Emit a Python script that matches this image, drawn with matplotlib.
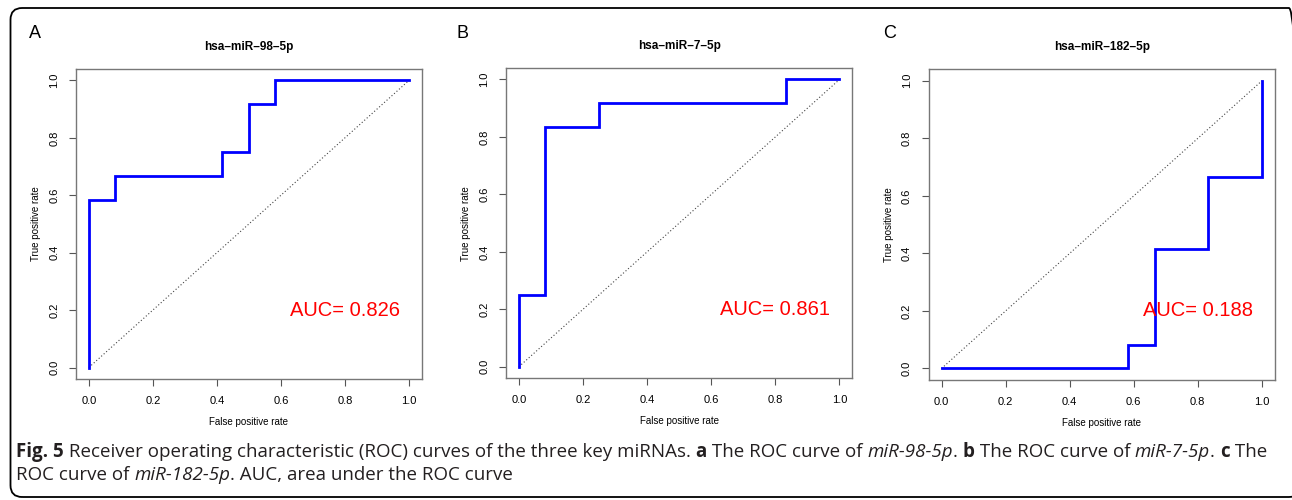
import matplotlib
matplotlib.use('Agg')
import matplotlib.pyplot as plt
from matplotlib.patches import FancyBboxPatch

# ROC 曲线数据
fpr_98 = [0.0, 0.0, 0.083, 0.083, 0.417, 0.417, 0.5, 0.5, 0.583, 0.583, 1.0]
tpr_98 = [0.0, 0.583, 0.583, 0.667, 0.667, 0.75, 0.75, 0.917, 0.917, 1.0, 1.0]
fpr_7 = [0.0, 0.0, 0.083, 0.083, 0.25, 0.25, 0.833, 0.833, 1.0]
tpr_7 = [0.0, 0.25, 0.25, 0.833, 0.833, 0.917, 0.917, 1.0, 1.0]
fpr_182 = [0.0, 0.583, 0.583, 0.667, 0.667, 0.833, 0.833, 1.0, 1.0]
tpr_182 = [0.0, 0.0, 0.083, 0.083, 0.417, 0.417, 0.667, 0.667, 1.0]

titles = ['hsa\u2013miR\u201398\u20135p', 'hsa\u2013miR\u20137\u20135p', 'hsa\u2013miR\u2013182\u20135p']
panel_letters = ['A', 'B', 'C']
auc_values = [0.826, 0.861, 0.188]
ticks = [0.0, 0.2, 0.4, 0.6, 0.8, 1.0]
tick_labels = ['0.0', '0.2', '0.4', '0.6', '0.8', '1.0']

W, H = 1292, 500
fig = plt.figure(figsize=(W / 100, H / 100), dpi=100)
plt.rcParams['font.family'] = ['Liberation Sans', 'DejaVu Sans']

# 外框（圆角，右侧超出画布）
frame = FancyBboxPatch((10.5 / W, 3 / H), 1290 / W, 489 / H,
                       boxstyle='round,pad=0,rounding_size=0.009',
                       transform=fig.transFigure, fill=False,
                       edgecolor='black', linewidth=1.3, mutation_aspect=W / H)
fig.patches.append(frame)

# 各面板坐标轴位置（像素）
boxes = [(76, 69, 421.7, 379), (506, 68, 852.3, 378.3), (928.7, 69.3, 1274.7, 380)]
curves = [(fpr_98, tpr_98), (fpr_7, tpr_7), (fpr_182, tpr_182)]
letter_x = [35, 463, 890]

for i, (x0, y0, x1, y1) in enumerate(boxes):
    ax = fig.add_axes([x0 / W, 1 - y1 / H, (x1 - x0) / W, (y1 - y0) / H])
    fpr, tpr = curves[i]
    ax.plot([0, 1], [0, 1], color='#444444', linestyle=(0, (1, 2)), linewidth=0.8)
    ax.plot(fpr, tpr, color='#0000ff', linewidth=2.0, solid_joinstyle='miter')
    ax.set_xlim(-0.04, 1.04)
    ax.set_ylim(-0.04, 1.04)
    ax.set_xticks(ticks)
    ax.set_xticklabels(tick_labels, fontsize=8)
    ax.set_yticks(ticks)
    ax.set_yticklabels(tick_labels, fontsize=8, rotation=90, va='center')
    ax.tick_params(length=5, width=0.8, color='#555555', pad=7)
    for s in ax.spines.values():
        s.set_color('#777777')
        s.set_linewidth(1.0)
    ax.set_xlabel('False positive rate', fontsize=7, labelpad=8)
    ax.set_ylabel('True positive rate', fontsize=7, labelpad=6)
    ax.set_title(titles[i], fontsize=8.5, fontweight='bold', pad=14)
    ax.text(0.8, 0.2, f'AUC= {auc_values[i]:.3f}', color='#ff0000', fontsize=14.5,
            ha='center', va='center')
    fig.text(letter_x[i] / W, 1 - 33 / H, panel_letters[i], fontsize=13,
             ha='center', va='center')

# 图注（逐段绘制，支持粗体/斜体）
line1 = [('Fig. 5', 'bold', 'normal'),
         (' Receiver operating characteristic (ROC) curves of the three key miRNAs. ', 'normal', 'normal'),
         ('a', 'bold', 'normal'), (' The ROC curve of ', 'normal', 'normal'),
         ('miR-98-5p', 'normal', 'italic'), ('. ', 'normal', 'normal'),
         ('b', 'bold', 'normal'), (' The ROC curve of ', 'normal', 'normal'),
         ('miR-7-5p', 'normal', 'italic'), ('. ', 'normal', 'normal'),
         ('c', 'bold', 'normal'), (' The', 'normal', 'normal')]
line2 = [('ROC curve of ', 'normal', 'normal'), ('miR-182-5p', 'normal', 'italic'),
         ('. AUC, area under the ROC curve', 'normal', 'normal')]

renderer = fig.canvas.get_renderer()


def draw_runs(runs, x_px, y_px, size):
    x = x_px
    for txt, weight, style in runs:
        t = fig.text(x / W, 1 - y_px / H, txt, fontsize=size, fontweight=weight,
                     fontstyle=style, family=['Open Sans', 'DejaVu Sans'],
                     color='#231f20', ha='left', va='center')
        bb = t.get_window_extent(renderer=renderer)
        x += bb.width


draw_runs(line1, 16, 452, 13.5)
draw_runs(line2, 16, 475, 13.5)

fig.savefig('out.png', dpi=100)
